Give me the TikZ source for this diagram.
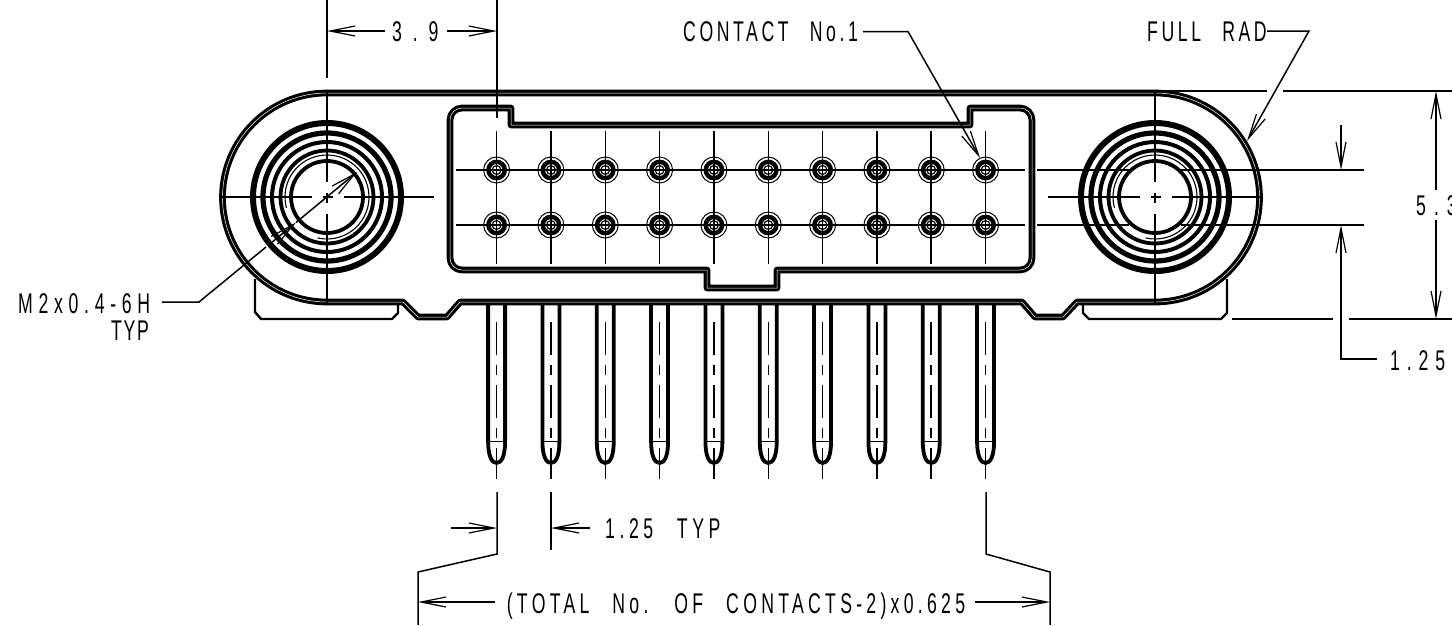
\documentclass[tikz,border=0pt]{standalone}
\usepackage{fontspec}
\setmainfont{Liberation Sans}[FakeStretch=0.62,WordSpace=2.5]
\usetikzlibrary{arrows.meta}

\tikzset{
  outline/.style={line width=3.1pt,double,double distance=0.5pt,line join=round},
  thin line/.style={line width=1.5pt},
  center line/.style={line width=1.5pt,dash pattern=on 92pt off 11pt on 10pt off 11pt},
  pin center/.style={line width=1.5pt,dash pattern=on 33pt off 10pt on 10pt off 10pt},
  dim/.style={line width=1.5pt,-{Straight Barb[length=25pt,width=10pt,line width=1.2pt]}},
  label/.style={inner sep=0pt,font=\fontsize{28.5}{28.5}\selectfont\addfontfeatures{LetterSpace=#1}},
  label/.default=14,
}

\begin{document}
\begin{tikzpicture}[x=1pt,y=-1pt]
\useasboundingbox (0,0) rectangle (1452,625);

% -------- Body -----------
\draw [outline] (327,93) -- (1155,93) arc[start angle=-90,end angle=90,radius=104.5]
  -- (1077,302) -- (1063,317) -- (1035,317) -- (1022,302) -- (460,302)
  -- (447,317) -- (418,317) -- (403,302) -- (327,302)
  arc[start angle=90,end angle=270,radius=104.5] -- cycle;

% -------- Feet -----------
\draw [line width=2.4pt,line join=round] (255,279) -- (255,312) -- (261,319) -- (392,319) -- (398,313) -- (398,305);
\draw [line width=2.4pt,line join=round] (1083,305) -- (1083,313) -- (1089,319) -- (1221,319) -- (1227,313) -- (1227,279);

% -------- Cavity -----------
\draw [outline] (462,108) -- (511,108) -- (511,125) -- (970,125) -- (970,108) -- (1020,108)
  arc[start angle=-90,end angle=0,radius=12] -- (1032,258)
  arc[start angle=0,end angle=90,radius=12] -- (777,270) -- (777,288) -- (707,288) -- (707,270) -- (462,270)
  arc[start angle=90,end angle=180,radius=12] -- (450,120)
  arc[start angle=180,end angle=270,radius=12] -- cycle;

% -------- Holes -----------
\foreach \name/\cx in {lefthole/327,righthole/1155} {
  \coordinate (\name) at (\cx,197);
  \draw [line width=6pt] (\name) circle [radius=74pt];
  \draw [line width=5.2pt] (\name) circle [radius=64pt];
  \draw [line width=4pt] (\name) circle [radius=55pt];
  \draw [line width=3.8pt] (\name) circle [radius=46.5pt];
  \draw [line width=3.8pt] (\name) circle [radius=36pt];
  \draw [line width=1.1pt] (\name) ++(165:42) arc[start angle=165,end angle=463,radius=42];
  \draw [center line] (\cx-107,197) -- (\cx+107,197);
  \draw [center line] (\cx,90) -- (\cx,304);
}

% -------- Contacts -----------
\draw [thin line] (456,170) -- (1025,170);
\draw [thin line] (456,225) -- (1025,225);
\draw [thin line] (1037,170) -- (1129,170);
\draw [thin line] (1037,225) -- (1129,225);
\draw [thin line] (1181,170) -- (1364,170);
\draw [thin line] (1181,225) -- (1364,225);
\foreach \i in {0,...,9} {
  \pgfmathsetmacro{\px}{496.6+54.33*\i}
  \draw [thin line] (\px,131) -- (\px,264);
  \foreach \py in {170,225} {
    \draw [line width=1pt] (\px,\py) circle [radius=13pt];
    \draw [line width=4.4pt] (\px,\py) circle [radius=8.2pt];
    \draw [line width=1.2pt] (\px,\py) circle [radius=4.4pt];
  }
  % pin
  \draw [line width=3.8pt] (\px-8.5,305) -- (\px-8.5,441) .. controls (\px-8.5,456) and (\px-5,463) .. (\px,463)
    .. controls (\px+5,463) and (\px+8.5,456) .. (\px+8.5,441) -- (\px+8.5,305);
  \draw [line width=1pt] (\px-8.5,441) -- (\px+8.5,441);
  \draw [pin center] (\px,322) -- (\px,479);
}

% -------- Dimensions top -----------
\draw [thin line] (327,0) -- (327,78);
\draw [thin line] (497,0) -- (497,118);
\node [label=38,anchor=base west] (topdim) at (392,41.5) {3.9};
\coordinate (topa) at (385,31);
\coordinate (topb) at (447,31);
\draw [dim] (topa) -- (327,31);
\draw [dim] (topb) -- (497,31);

\node [label=12.5,anchor=base west] (contact) at (683,41.5) {CONTACT No.1};
\coordinate (contacta) at (863,31.5);
\draw [dim] (contacta) -- (908,31.5) -- (980,158);

\node [label=12.5,anchor=base west] (fullrad) at (1147,41.5) {FULL RAD};
\coordinate (fullrada) at (1267,31);
\draw [dim] (fullrada) -- (1309,31) -- (1247,141);

% -------- Thread callout -----------
\node [label=20,anchor=base west] (thread) at (18,313) {M2x0.4-6H};
\node [label=6,anchor=base east] (threadtyp) at (149,340) {TYP};
\coordinate (threada) at (162,302);
\draw [thin line] (threada) -- (199,302) -- (266,247);
\draw [dim] (271,243) -- (296,222.5);
\draw [dim] (296,222.5) -- (357,172);

% -------- Dimensions right -----------
\draw [thin line] (1160,91) -- (1267,91);
\draw [thin line] (1283,91) -- (1452,91);
\draw [thin line] (1232,319) -- (1333,319);
\draw [thin line] (1349,319) -- (1452,319);
\node [label=28,anchor=base west] (height) at (1416,215) {5.3};
\draw [dim] (1436,190) -- (1436,91);
\draw [dim] (1436,220) -- (1436,319);
\draw [dim] (1341,125) -- (1341,170);
\node [label=24,anchor=base west] (rowpitch) at (1390,370) {1.25};
\coordinate (rowpitcha) at (1377,359);
\draw [dim] (rowpitcha) -- (1341,359) -- (1341,225);

% -------- Dimensions bottom -----------
\draw [thin line] (497,492) -- (497,554) -- (418,572) -- (418,625);
\draw [thin line] (551,492) -- (551,550);
\draw [thin line] (986,492) -- (986,554) -- (1050,572) -- (1050,625);
\coordinate (pitchb) at (451,528);
\draw [dim] (pitchb) -- (497,528);
\node [label=16,anchor=base west] (pitch) at (605,538) {1.25 TYP};
\coordinate (pitcha) at (590,528);
\draw [dim] (pitcha) -- (551,528);
\node [label=15,anchor=base] (total) at (736,613) {(TOTAL No. OF CONTACTS-2)x0.625};
\coordinate (totala) at (495,602);
\coordinate (totalb) at (975,602);
\draw [dim] (totala) -- (418,602);
\draw [dim] (totalb) -- (1050,602);
\end{tikzpicture}
\end{document}
